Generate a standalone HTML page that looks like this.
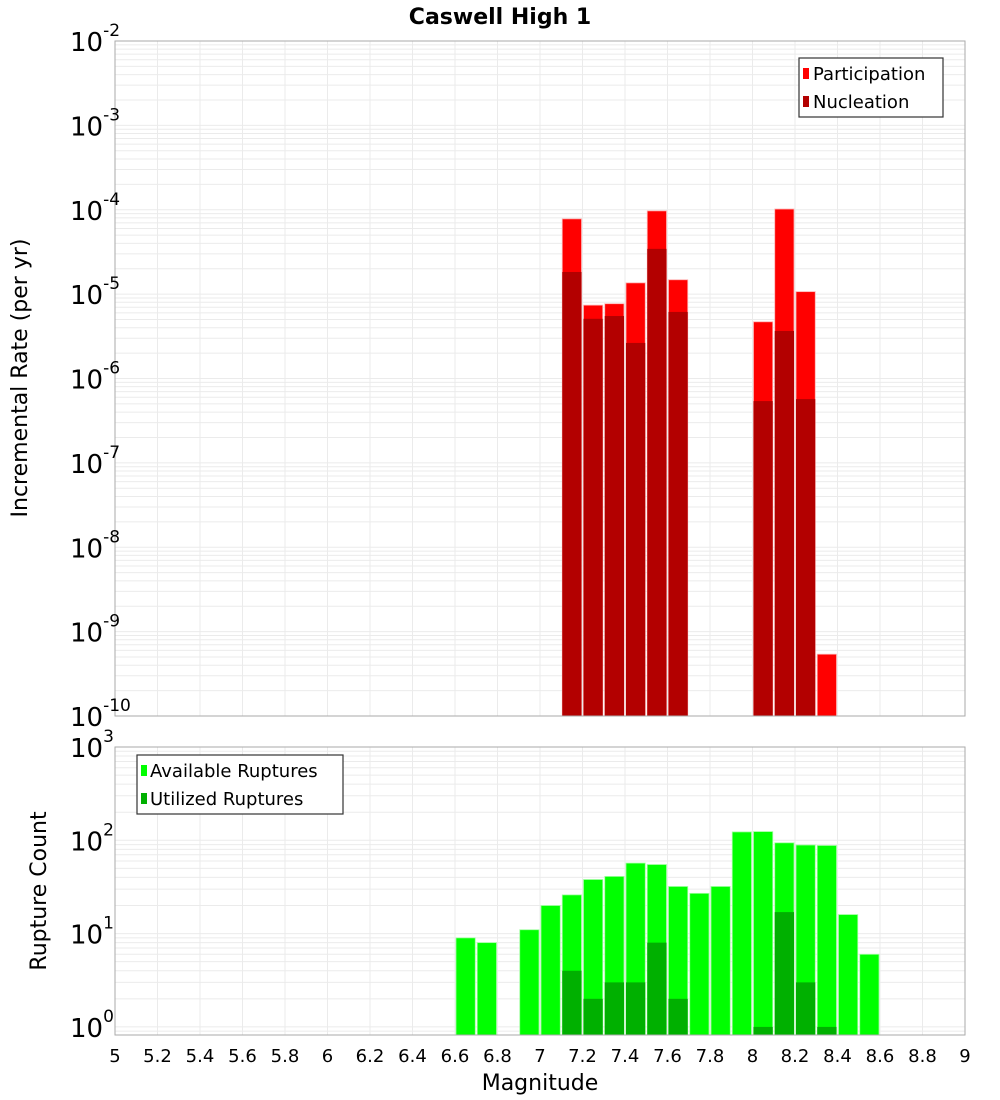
<!DOCTYPE html>
<html><head><meta charset="utf-8"><style>
html,body{margin:0;padding:0;background:#fff;}
svg{display:block;font-family:"DejaVu Sans","Liberation Sans",sans-serif;}
</style></head><body>
<svg id="c" width="1000" height="1100" viewBox="0 0 1000 1100" xmlns="http://www.w3.org/2000/svg">
<text x="500" y="24" text-anchor="middle" font-size="22" font-weight="bold">Caswell High 1</text>
</svg>
<script>
const xTicks=[5,5.2,5.4,5.6,5.8,6,6.2,6.4,6.6,6.8,7,7.2,7.4,7.6,7.8,8,8.2,8.4,8.6,8.8,9];
const rateMags=[7.1,7.2,7.3,7.4,7.5,7.6,8.0,8.1,8.2,8.3];
const participation=[7.8e-5,7.4e-6,7.7e-6,1.36e-5,9.7e-5,1.48e-5,4.7e-6,1.02e-4,1.07e-5,5.4e-10];
const nucleation=[1.83e-5,5.1e-6,5.5e-6,2.64e-6,3.44e-5,6.15e-6,5.4e-7,3.66e-6,5.7e-7,0];
const countMags=[6.6,6.7,6.9,7.0,7.1,7.2,7.3,7.4,7.5,7.6,7.7,7.8,7.9,8.0,8.1,8.2,8.3,8.4,8.5];
const available=[9,8,11,20,26,38,41,57,55,32,27,32,123,124,94,89,88,16,6];
const utilized=[0,0,0,0,4,2,3,3,8,2,0,0,0,1,17,3,1,0,0];
const topExps=[-2,-3,-4,-5,-6,-7,-8,-9,-10];
const botExps=[3,2,1,0];

const NS="http://www.w3.org/2000/svg";
const svg=document.getElementById('c');
const L=115,R=965;
const X=m=>L+(m-5)/4*(R-L);
const T0=41,T1=716;
const yTop=v=>T0+(-2-Math.log10(v))*(T1-T0)/8;
const B0=747,Bdec=93.3;
const yBot=v=>B0+(3-Math.log10(v))*Bdec;
const B1=1035;
function el(t,a,p){const e=document.createElementNS(NS,t);for(const k in a)e.setAttribute(k,a[k]);(p||svg).appendChild(e);return e;}

function grid(y0,y1,yf,decs){
  const g=el('g',{});
  
  
  for(let i=0;i<decs.length;i++){for(let k=1;k<10;k++){const y=yf(k*Math.pow(10,decs[i]));if(y>=y0-0.5&&y<=y1+0.5)el('line',{x1:L,x2:R,y1:y,y2:y,stroke:'#ebebeb','stroke-width':1},g);}}
  xTicks.forEach(t=>{const x=X(t);el('line',{x1:x,x2:x,y1:y0,y2:y1,stroke:'#ebebeb','stroke-width':1},g);});
}
grid(T0,T1,yTop,[-2,-3,-4,-5,-6,-7,-8,-9,-10]);
grid(B0,B1,yBot,[3,2,1,0,-1]);

const bw=X(5.1)-X(5);
rateMags.forEach((m,i)=>{
  const r=el('rect',{x:X(m)+1,y:yTop(participation[i]),width:bw-2,height:T1-yTop(participation[i]),fill:'#ff0000',stroke:'#ffb0b0','stroke-width':0.8});
  
  
  if(nucleation[i]>0){const n=el('rect',{x:X(m)+1,y:yTop(nucleation[i]),width:bw-2,height:T1-yTop(nucleation[i]),fill:'#b30000'});
  
  }
});
countMags.forEach((m,i)=>{
  const r=el('rect',{x:X(m)+1,y:yBot(available[i]),width:bw-2,height:B1-yBot(available[i]),fill:'#00ff00',stroke:'#a0ffa0','stroke-width':0.8});
  
  
  if(utilized[i]>0){const n=el('rect',{x:X(m)+1,y:yBot(utilized[i]),width:bw-2,height:B1-yBot(utilized[i]),fill:'#00b000'});
  
  }
});
el('rect',{x:L,y:T0,width:R-L,height:T1-T0,fill:'none',stroke:'#aaa','stroke-width':1});
el('rect',{x:L,y:B0,width:R-L,height:B1-B0,fill:'none',stroke:'#aaa','stroke-width':1});

function ylab(y,e){
  const t=el('text',{x:70,y:y+10,'font-size':26});
  
  
  t.textContent='10';
  const s=el('tspan',{dy:-15,'font-size':17},t);s.textContent=String(e);
}
topExps.forEach(e=>ylab(yTop(Math.pow(10,e)),e));
botExps.forEach(e=>ylab(yBot(Math.pow(10,e)),e));
xTicks.forEach(t=>{const tx=el('text',{x:X(t),y:1062,'text-anchor':'middle','font-size':18});
  
  
  tx.textContent=String(t);});
</script>
<svg style="position:absolute;left:0;top:0" width="1000" height="1100" xmlns="http://www.w3.org/2000/svg" font-family="DejaVu Sans, Liberation Sans, sans-serif">
<text x="540" y="1090" text-anchor="middle" font-size="22">Magnitude</text>
<text transform="translate(27,378) rotate(-90)" text-anchor="middle" font-size="22">Incremental Rate (per yr)</text>
<text transform="translate(46,891) rotate(-90)" text-anchor="middle" font-size="22">Rupture Count</text>
<g>
<rect x="799" y="58" width="144" height="59" fill="#fff" stroke="#333" stroke-width="1.2"/>
<rect x="803" y="68" width="6" height="11" fill="#ff0000"/>
<text x="813" y="80" font-size="18">Participation</text>
<rect x="803" y="96" width="6" height="11" fill="#b30000"/>
<text x="813" y="108" font-size="18">Nucleation</text>
</g>
<g>
<rect x="137" y="755" width="206" height="59" fill="#fff" stroke="#333" stroke-width="1.2"/>
<rect x="141" y="765" width="6" height="11" fill="#00ff00"/>
<text x="150" y="777" font-size="18">Available Ruptures</text>
<rect x="141" y="793" width="6" height="11" fill="#00b000"/>
<text x="150" y="805" font-size="18">Utilized Ruptures</text>
</g>
</svg>
</body></html>
